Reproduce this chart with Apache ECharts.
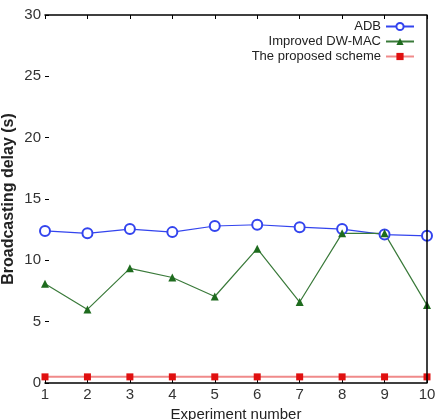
<!DOCTYPE html>
<html><head><meta charset="utf-8">
<script src="https://cdn.jsdelivr.net/npm/echarts@6/dist/echarts.min.js"></script>
<style>html,body{margin:0;padding:0;background:#fff}#c{width:436px;height:420px}</style>
</head><body><div id="c"></div>
<script>
var experiments = [1,2,3,4,5,6,7,8,9,10];
var adb = [12.4,12.2,12.55,12.3,12.8,12.9,12.7,12.55,12.1,12.0];
var improvedDWMAC = [8.1,6.0,9.35,8.6,7.05,10.95,6.6,12.2,12.2,6.35];
var proposed = [0.5,0.5,0.5,0.5,0.5,0.5,0.5,0.5,0.5,0.5];
var yTicks = [0,5,10,15,20,25,30];
var seriesNames = ['ADB','Improved DW-MAC','The proposed scheme'];

function pairs(vals){ return experiments.map(function(x,i){ return [x, vals[i]]; }); }
var FONT = '"Liberation Sans Narrow","Liberation Sans",Arial,sans-serif';
var chart = echarts.init(document.getElementById('c'));
chart.setOption({
  animation:false,
  backgroundColor:'#fff',
  textStyle:{fontFamily:FONT},
  grid:{left:45,right:9,top:15,bottom:37,containLabel:false,outerBoundsMode:'none'},
  legend:{
    orient:'vertical', right:16, top:15, align:'right', itemGap:2,
    itemWidth:28, itemHeight:9,
    textStyle:{fontFamily:FONT, fontSize:13, color:'#222'},
    data:seriesNames
  },
  xAxis:[{
    type:'value', position:'bottom', min:1, max:10, interval:1,
    name:'Experiment number', nameLocation:'middle', nameGap:24,
    nameTextStyle:{fontFamily:FONT, fontSize:15, color:'#222'},
    axisLine:{show:true, onZero:false, lineStyle:{color:'#000', width:1.5}},
    axisTick:{show:true, inside:true, length:4, lineStyle:{color:'#000'}},
    axisLabel:{fontFamily:FONT, fontSize:15, color:'#333', margin:4},
    splitLine:{show:false}
  },{
    type:'value', position:'top', min:1, max:10, interval:1,
    axisLine:{show:true, onZero:false, lineStyle:{color:'#000', width:1.5}},
    axisTick:{show:true, inside:true, length:4, lineStyle:{color:'#000'}},
    axisLabel:{show:false}, splitLine:{show:false}
  }],
  yAxis:[{
    type:'value', position:'left', min:0, max:30, interval:5,
    name:'Broadcasting delay (s)', nameLocation:'middle', nameGap:28, nameMoveOverlap:false,
    nameTextStyle:{fontFamily:FONT, fontSize:16, color:'#222', fontWeight:'bold'},
    axisLine:{show:false, onZero:false},
    axisTick:{show:true, inside:true, length:4, lineStyle:{color:'#000'}},
    axisLabel:{fontFamily:FONT, fontSize:15, color:'#333', margin:4,
      formatter:function(v){ return yTicks.indexOf(v)>=0 ? String(v) : ''; }},
    splitLine:{show:false}
  }],
  series:[{
    name:seriesNames[0], type:'line', data:pairs(adb),
    symbol:'emptyCircle', symbolSize:10,
    lineStyle:{color:'#3344ee', width:1.2},
    itemStyle:{color:'#3344ee', borderColor:'#3344ee', borderWidth:1.2},
    markLine:{silent:true, symbol:['none','none'], label:{show:false},
      lineStyle:{color:'#000', width:1.5, type:'solid'},
      data:[{xAxis:experiments[experiments.length-1]}]}
  },{
    name:seriesNames[1], type:'line', data:pairs(improvedDWMAC),
    symbol:'triangle', symbolSize:8,
    lineStyle:{color:'#3a7a3a', width:1.2},
    itemStyle:{color:'#1e6b1e'}
  },{
    name:seriesNames[2], type:'line', data:pairs(proposed),
    symbol:'rect', symbolSize:7,
    lineStyle:{color:'#f08a8a', width:2},
    itemStyle:{color:'#e01010'}
  }]
});
</script></body></html>
